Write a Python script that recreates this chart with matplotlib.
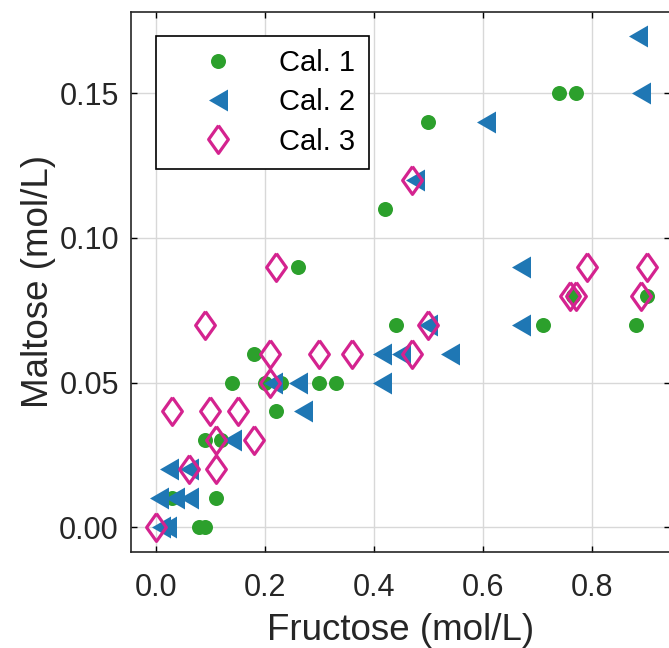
import numpy as np
import matplotlib
matplotlib.use('Agg')
from matplotlib import pyplot as plt

plt.rcParams['font.family'] = ['Liberation Sans', 'DejaVu Sans']

# Cal. 1 (green circles)
cal1_x = [0.08, 0.09, 0.11, 0.03, 0.09, 0.12, 0.14, 0.18, 0.20, 0.23, 0.22, 0.26,
          0.30, 0.33, 0.42, 0.44, 0.50, 0.71, 0.74, 0.77, 0.765, 0.88, 0.90]
cal1_y = [0.00, 0.00, 0.01, 0.01, 0.03, 0.03, 0.05, 0.06, 0.05, 0.05, 0.04, 0.09,
          0.05, 0.05, 0.11, 0.07, 0.14, 0.07, 0.15, 0.15, 0.08, 0.07, 0.08]

# Cal. 2 (blue triangles)
cal2_x = [0.01, 0.02, 0.005, 0.035, 0.06, 0.025, 0.06, 0.14, 0.215, 0.26, 0.27,
          0.415, 0.415, 0.45, 0.54, 0.50, 0.475, 0.605, 0.67, 0.67, 0.89, 0.885]
cal2_y = [0.00, 0.00, 0.01, 0.01, 0.01, 0.02, 0.02, 0.03, 0.05, 0.05, 0.04,
          0.05, 0.06, 0.06, 0.06, 0.07, 0.12, 0.14, 0.09, 0.07, 0.15, 0.17]

# Cal. 3 (magenta diamonds)
cal3_x = [0.00, 0.03, 0.06, 0.11, 0.09, 0.10, 0.11, 0.15, 0.18, 0.21, 0.21, 0.22,
          0.30, 0.36, 0.47, 0.47, 0.50, 0.76, 0.77, 0.79, 0.89, 0.90]
cal3_y = [0.00, 0.04, 0.02, 0.02, 0.07, 0.04, 0.03, 0.04, 0.03, 0.06, 0.05, 0.09,
          0.06, 0.06, 0.06, 0.12, 0.07, 0.08, 0.08, 0.09, 0.08, 0.09]

labels = ['Cal. 1', 'Cal. 2', 'Cal. 3']
x_ticks = [0.0, 0.2, 0.4, 0.6, 0.8]
y_ticks = [0.00, 0.05, 0.10, 0.15]

# marker shapes
tri_left = [(-0.866, 0), (0.866, 1), (0.866, -1), (-0.866, 0)]
diamond = [(0, 1), (0.71, 0), (0, -1), (-0.71, 0), (0, 1)]

fig = plt.figure(figsize=(6.69, 6.48), dpi=100)
ax = fig.add_axes([131.4 / 669, 96 / 648, (670 - 131.4) / 669, 540 / 648])

ax.grid(True, color='#d8d8d8', linewidth=1.0, zorder=0)
ax.set_axisbelow(True)

ax.plot(cal1_x, cal1_y, linestyle='none', marker='o', ms=10.8,
        color='#2ca02c', mec='none', label=labels[0], zorder=3)
ax.plot(cal2_x, cal2_y, linestyle='none', marker=tri_left, ms=15.8,
        color='#1f77b4', mec='none', label=labels[1], zorder=4)
ax.plot(cal3_x, cal3_y, linestyle='none', marker=diamond, ms=20,
        mfc='none', mec='#d4238f', mew=2.3, label=labels[2], zorder=5)

ax.set_xlim(-0.0447, 0.9428)
ax.set_ylim(-0.00865, 0.1782)
ax.set_xticks(x_ticks)
ax.set_xticklabels(['0.0', '0.2', '0.4', '0.6', '0.8'])
ax.set_yticks(y_ticks)
ax.set_yticklabels(['0.00', '0.05', '0.10', '0.15'])

ax.tick_params(direction='in', length=4, width=1, top=True, right=True,
               labelsize=22, labelcolor='#262626')
ax.tick_params(axis='x', pad=15)
ax.tick_params(axis='y', pad=9)
for s in ax.spines.values():
    s.set_linewidth(1.2)
    s.set_color('#262626')

ax.set_xlabel('Fructose (mol/L)', fontsize=26.5, color='#262626', labelpad=7)
ax.set_ylabel('Maltose (mol/L)', fontsize=26.5, color='#262626', labelpad=2)

leg = ax.legend(loc='upper left', bbox_to_anchor=(0.0457, 0.9556),
                borderaxespad=0, fontsize=21, fancybox=False, framealpha=1,
                edgecolor='black', handlelength=3.35, handletextpad=0.42,
                borderpad=0.46, labelspacing=0.38, numpoints=1)
leg.get_frame().set_linewidth(1.2)

fig.savefig('out.png', dpi=100)
